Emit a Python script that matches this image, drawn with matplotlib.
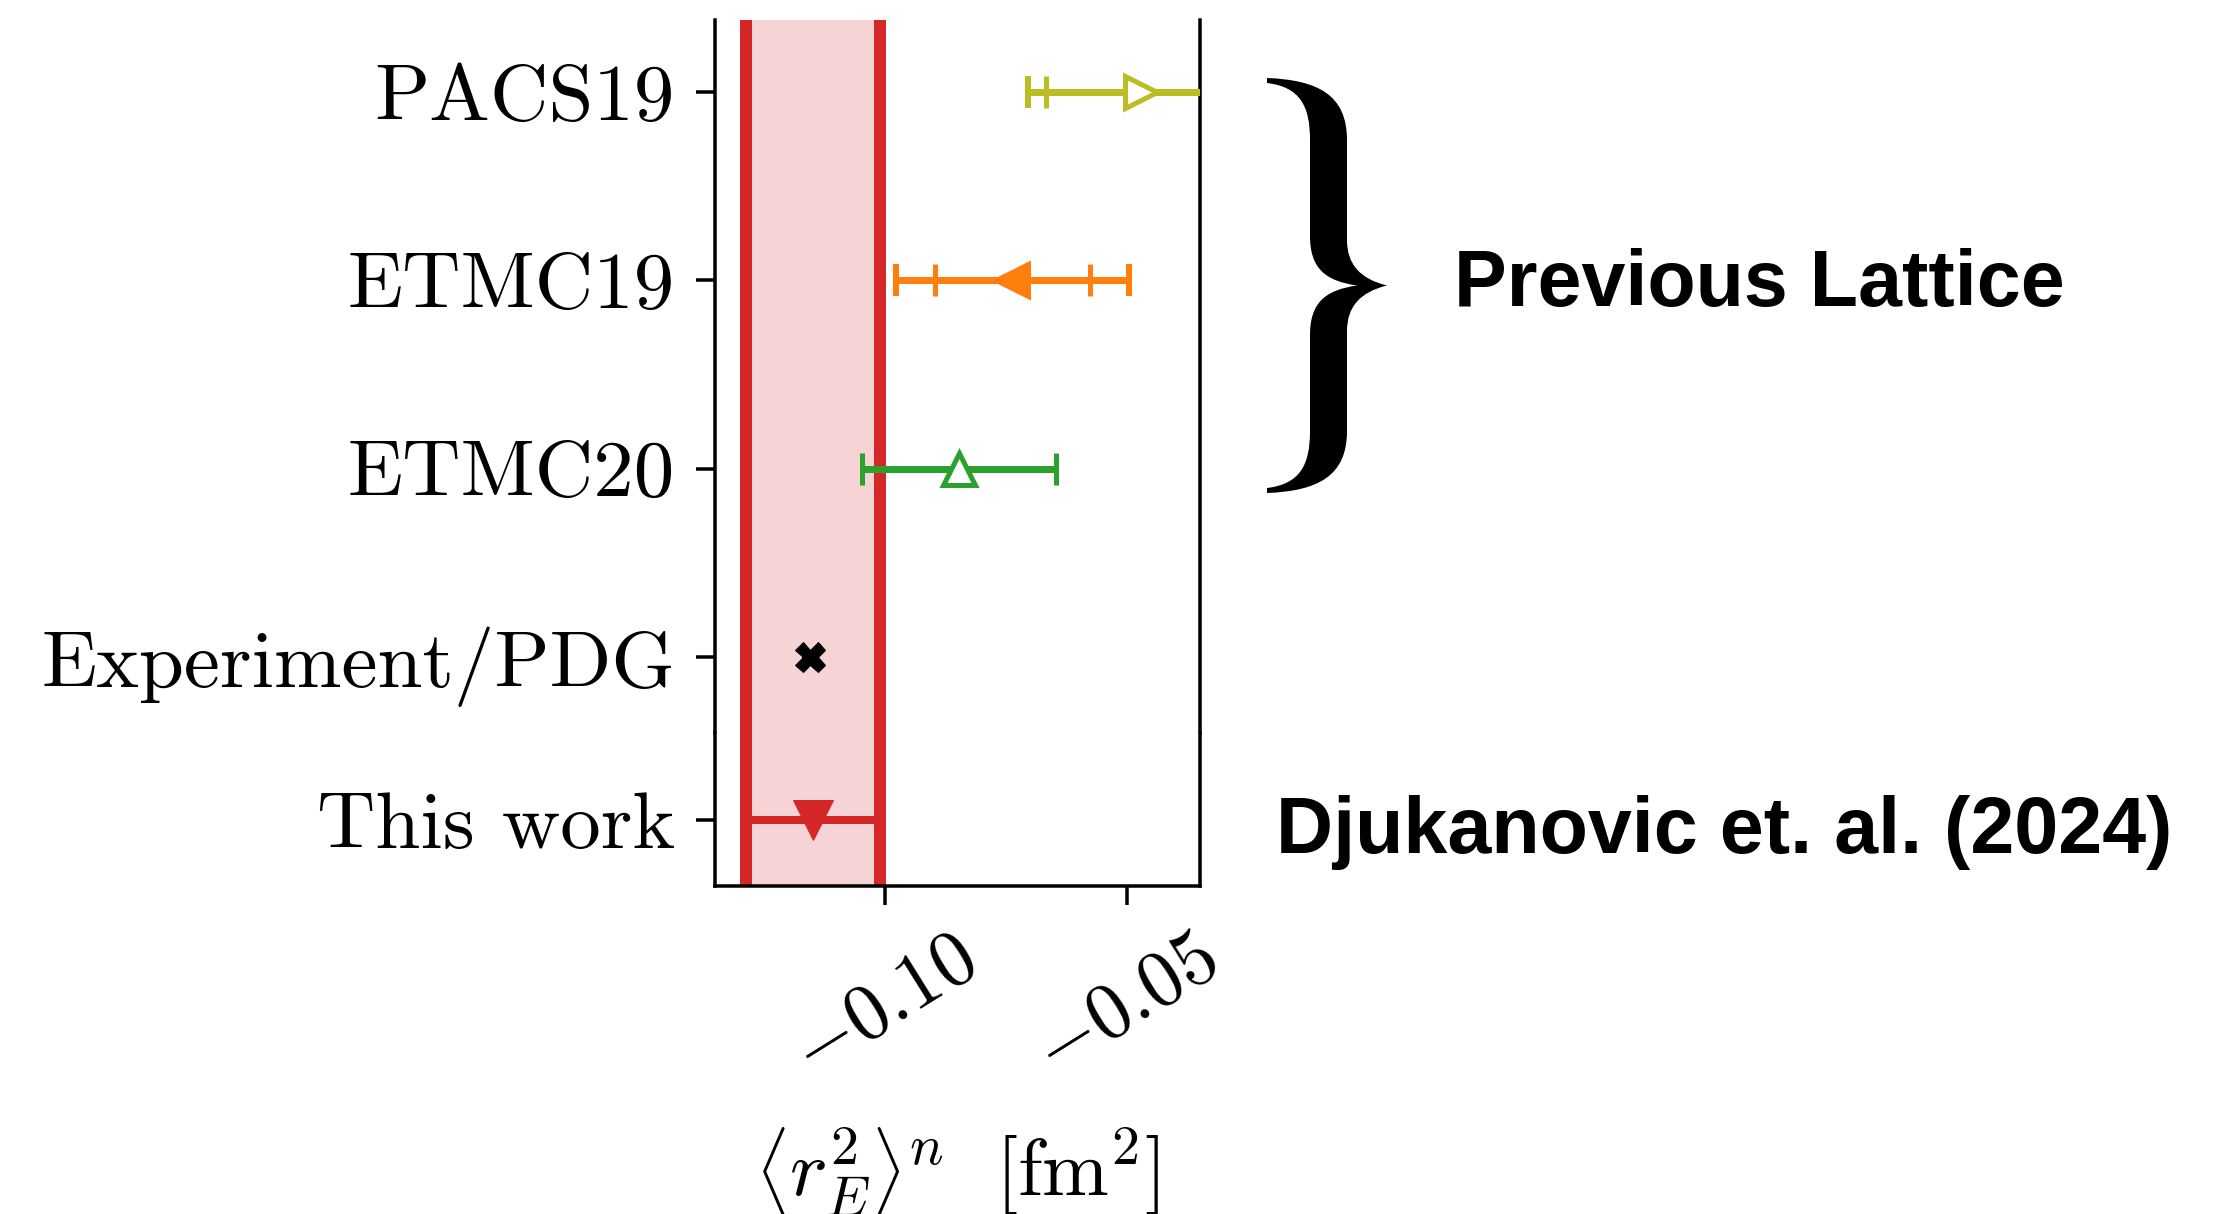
import matplotlib
matplotlib.use("Agg")
import matplotlib.pyplot as plt
from matplotlib.path import Path
from matplotlib.patches import PathPatch
import matplotlib.transforms as mtransforms

W, H, DPI = 2214, 1214, 72

# ---------------- data ----------------
top_labels = ["Experiment/PDG", "ETMC20", "ETMC19", "PACS19"]
top_values = [-0.1155, -0.0847, -0.0737, -0.0472]
top_err_stat = [0.0017, 0.0200, 0.0160, 0.0196]
top_err_tot = [None, None, 0.0240, 0.0234]
top_colors = ["black", "tab:green", "tab:orange", "tab:olive"]
top_markers = ["X", "^", "<", ">"]
top_filled = [True, False, True, False]

this_label = ["This work"]
this_value = [-0.1149]
this_err = [0.0139]

xticks = [-0.10, -0.05]
xlim = (-0.1351, -0.035)

# ---------------- style ----------------
plt.rcParams.update({
    "font.family": "cmr10",
    "mathtext.fontset": "cm",
    "axes.formatter.use_mathtext": True,
    "axes.unicode_minus": True,
    "axes.linewidth": 3.5,
})

fig = plt.figure(figsize=(W / DPI, H / DPI), dpi=DPI)


def px_axes(l, t, r, b):
    return fig.add_axes([l / W, 1 - b / H, (r - l) / W, (b - t) / H])


ax_top = px_axes(715, 20, 1200, 733)
ax_bot = px_axes(715, 733, 1200, 886)

band_lo = this_value[0] - this_err[0]
band_hi = this_value[0] + this_err[0]

for ax in (ax_top, ax_bot):
    ax.axvspan(band_lo, band_hi, color="tab:red", alpha=0.2, lw=0, zorder=0)
    ax.axvline(band_lo, color="tab:red", lw=12, zorder=1)
    ax.axvline(band_hi, color="tab:red", lw=12, zorder=1)
    ax.set_xlim(*xlim)
    ax.tick_params(axis="y", length=19, width=3.5, pad=21, labelsize=81)
    ax.tick_params(axis="x", length=19, width=3.5)

# top panel
for i, (v, es, et, c, m, f) in enumerate(zip(top_values, top_err_stat, top_err_tot,
                                            top_colors, top_markers, top_filled)):
    if et is not None:
        ax_top.errorbar(v, i, xerr=et, fmt="none", ecolor=c, elinewidth=7,
                        capsize=16, capthick=6, zorder=2)
    if m == "X":
        ax_top.errorbar(v, i, xerr=es, fmt=m, color=c, ms=30, mew=1,
                        elinewidth=5, capsize=8, capthick=4, zorder=3)
    else:
        ax_top.errorbar(v, i, xerr=es, fmt=m, color=c, ecolor=c, ms=32,
                        mfc=(c if f else "white"), mec=c, mew=5,
                        elinewidth=7, capsize=16, capthick=6, zorder=3)

ax_top.set_yticks(range(len(top_labels)), top_labels)
ax_top.set_ylim(-0.404, 3.381)
ax_top.spines["top"].set_visible(False)
ax_top.spines["bottom"].set_visible(False)
ax_top.tick_params(axis="x", bottom=False, labelbottom=False)

# bottom panel
ax_bot.errorbar(this_value, [0], xerr=this_err, fmt="v", color="tab:red",
                ms=40, mew=1, elinewidth=8, capsize=16, capthick=6, zorder=3)
ax_bot.set_yticks([0], this_label)
ax_bot.set_ylim(-0.349, 0.46)
ax_bot.spines["top"].set_visible(False)
ax_bot.set_xticks(xticks)
ax_bot.tick_params(axis="x", labelsize=79, labelrotation=32, pad=19)
for lab in ax_bot.get_xticklabels():
    lab.set_horizontalalignment("center")
ax_bot.set_xlabel(r"$\left\langle r_E^2 \right\rangle^n\ \ [\mathrm{fm}^2]$",
                  fontsize=80, labelpad=34)

# ---------------- annotations ----------------
fig.text(1454 / W, 1 - 306 / H, "Previous Lattice", fontfamily="Liberation Sans",
         fontweight="bold", fontsize=79, ha="left", va="baseline")
fig.text(1276 / W, 1 - 852.7 / H, "Djukanovic et. al. (2024)",
         fontfamily="Liberation Sans", fontweight="bold", fontsize=79,
         ha="left", va="baseline")

# curly brace drawn as a path in figure pixel coordinates (y downwards)
M, C, L, Z = Path.MOVETO, Path.CURVE4, Path.LINETO, Path.CLOSEPOLY
brace = [
    (M, (1267, 78)),
    (C, (1318, 80)), (C, (1347, 95)), (C, (1347, 140)),
    (L, (1347, 240)),
    (C, (1347, 264)), (C, (1360, 279)), (C, (1387, 285.5)),
    (C, (1360, 292)), (C, (1347, 307)), (C, (1347, 331)),
    (L, (1347, 431)),
    (C, (1347, 476)), (C, (1318, 491)), (C, (1267, 493)),
    (L, (1267, 488)),
    (C, (1300, 484)), (C, (1310, 465)), (C, (1310, 431)),
    (L, (1310, 335)),
    (C, (1310, 303)), (C, (1325, 290)), (C, (1357, 285.5)),
    (C, (1325, 281)), (C, (1310, 268)), (C, (1310, 236)),
    (L, (1310, 140)),
    (C, (1310, 106)), (C, (1300, 87)), (C, (1267, 83)),
    (Z, (1267, 78)),
]
codes, verts = zip(*brace)
tr = mtransforms.Affine2D().scale(1 / W, -1 / H).translate(0, 1) + fig.transFigure
fig.patches.append(PathPatch(Path(verts, codes), transform=tr, facecolor="black",
                             edgecolor="none", figure=fig))

fig.savefig("out.png", dpi=DPI)
